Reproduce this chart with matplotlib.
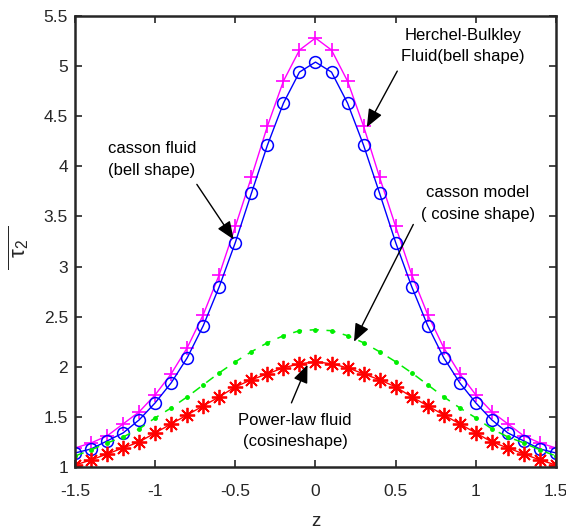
import numpy as np
import matplotlib
matplotlib.use("Agg")
import matplotlib.pyplot as plt

plt.rcParams['font.family'] = ['Liberation Sans', 'DejaVu Sans']
plt.rcParams['mathtext.fontset'] = 'custom'
plt.rcParams['mathtext.rm'] = 'Liberation Sans'
plt.rcParams['mathtext.it'] = 'Liberation Sans'

z = np.round(np.arange(-1.5, 1.501, 0.1), 2)

half_hb = [1.19, 1.24, 1.31, 1.43, 1.55, 1.72, 1.93, 2.19, 2.52, 2.92, 3.40, 3.89, 4.40, 4.85, 5.16, 5.28]
half_casson_bell = [1.14, 1.18, 1.26, 1.34, 1.47, 1.64, 1.84, 2.09, 2.41, 2.80, 3.24, 3.73, 4.21, 4.63, 4.94, 5.04]
half_casson_cos = [1.11, 1.17, 1.24, 1.30, 1.38, 1.49, 1.59, 1.70, 1.82, 1.94, 2.05, 2.15, 2.24, 2.31, 2.36, 2.37]
half_power = [1.02, 1.07, 1.13, 1.19, 1.25, 1.34, 1.43, 1.52, 1.61, 1.70, 1.80, 1.87, 1.93, 1.99, 2.03, 2.05]

def mirror(h):
    return h + h[-2::-1]

hb = mirror(half_hb)
casson_bell = mirror(half_casson_bell)
casson_cos = mirror(half_casson_cos)
power = mirror(half_power)

fig = plt.figure(figsize=(5.66, 5.31), dpi=100)
ax = fig.add_axes([0.1325, 0.1205, 0.8498, 0.8494])

ax.plot(z, hb, '-', color='#ff00ff', marker='+', ms=10, mew=1.2, lw=1.0)
ax.plot(z, casson_bell, '-', color='#0000ff', marker='o', ms=8.5, mfc='none', mew=1.1, lw=1.0)
ax.plot(z, casson_cos, '--', color='#00ee00', marker='.', ms=5, lw=1.1, dashes=(6, 5))
ax.plot(z, power, '-', color='#ff0000', marker=(8, 2, 0), ms=11, mew=1.3, lw=1.0)

ax.set_xlim(-1.5, 1.5)
ax.set_ylim(1, 5.5)
ax.set_xticks([-1.5, -1, -0.5, 0, 0.5, 1, 1.5])
ax.set_xticklabels(['-1.5', '-1', '-0.5', '0', '0.5', '1', '1.5'])
ax.set_yticks([1, 1.5, 2, 2.5, 3, 3.5, 4, 4.5, 5, 5.5])
ax.set_yticklabels(['1', '1.5', '2', '2.5', '3', '3.5', '4', '4.5', '5', '5.5'])
ax.tick_params(direction='in', length=5, width=1.2, top=True, right=True,
               labelsize=12.5, colors='#262626')
ax.tick_params(axis='x', pad=12)
ax.tick_params(axis='y', pad=5)
for s in ax.spines.values():
    s.set_linewidth(1.8)
    s.set_color('#262626')

# axis labels placed in figure pixel coordinates (566 x 531)
fig.text(316 / 566, 1 - 521 / 531, 'z', fontsize=13.5, color='#262626',
         ha='center', va='center')
fig.text(19 / 566, 1 - 248 / 531, r'$\overline{\ \ \tau_2\ \ }$', fontsize=16, color='#262626',
         ha='center', va='center', rotation=90)

arrow = dict(arrowstyle='-|>,head_length=1.1,head_width=0.45', color='black', lw=1.0, shrinkA=0, shrinkB=0)
fs = 12
ax.text(0.92, 5.20, 'Herchel-Bulkley\nFluid(bell shape)',
        ha='center', va='center', fontsize=fs, linespacing=1.55, color='black')
ax.annotate('', xy=(0.32, 4.39), xytext=(0.51, 4.95), arrowprops=arrow)

ax.text(-1.294, 4.07, 'casson fluid\n(bell shape)',
        ha='left', va='center', fontsize=fs, linespacing=1.55, color='black')
ax.annotate('', xy=(-0.51, 3.27), xytext=(-0.74, 3.82), arrowprops=arrow)

ax.text(1.014, 3.63, 'casson model\n( cosine shape)',
        ha='center', va='center', fontsize=fs, linespacing=1.55, color='black')
ax.annotate('', xy=(0.24, 2.25), xytext=(0.61, 3.42), arrowprops=arrow)

ax.text(-0.128, 1.36, 'Power-law fluid\n(cosineshape)',
        ha='center', va='center', fontsize=fs, linespacing=1.55, color='black')
ax.annotate('', xy=(-0.05, 2.02), xytext=(-0.15, 1.64), arrowprops=arrow)

fig.savefig('out.png', dpi=100)
